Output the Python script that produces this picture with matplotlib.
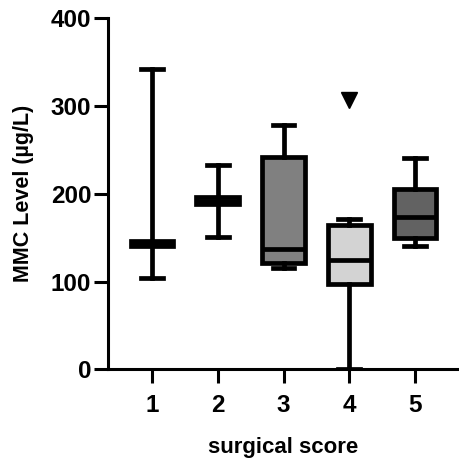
import matplotlib
matplotlib.use('Agg')
import matplotlib.pyplot as plt

plt.rcParams['font.family'] = ['Liberation Sans', 'DejaVu Sans']
plt.rcParams['font.weight'] = 'bold'

# box statistics (MMC level, ug/L)
scores = [1, 2, 3, 4, 5]
whislo = [104, 151, 115, 0, 140]
q1 = [140, 188, 121, 97, 150]
med = [143, 192, 137, 124, 174]
q3 = [146, 196, 242, 164, 206]
whishi = [342, 233, 278, 171, 241]
fliers = [[], [], [], [307], []]
fills = ['#ffffff', '#ffffff', '#808080', '#d3d3d3', '#626262']

stats = []
for i in range(len(scores)):
    stats.append({'whislo': whislo[i], 'q1': q1[i], 'med': med[i], 'q3': q3[i],
                  'whishi': whishi[i], 'fliers': fliers[i]})

fig = plt.figure(figsize=(4.59, 4.61), dpi=100)
ax = fig.add_axes([108 / 459, 91.7 / 461, 1 - 108 / 459, 351 / 461])

lw = 3.4
bp = ax.bxp(stats, positions=scores, widths=0.65, patch_artist=True,
            boxprops=dict(linewidth=lw, edgecolor='black'),
            whiskerprops=dict(linewidth=lw, color='black'),
            capprops=dict(linewidth=lw, color='black'),
            medianprops=dict(linewidth=lw, color='black', solid_capstyle='butt'),
            flierprops=dict(marker='v', markersize=11, markerfacecolor='black',
                            markeredgecolor='black'),
            capwidths=0.33)
for patch, c in zip(bp['boxes'], fills):
    patch.set_facecolor(c)

ax.set_xlim(0.33, 5.67)
ax.set_ylim(0, 400)
ax.set_yticks([0, 100, 200, 300, 400])
ax.set_xticks(scores)
ax.set_xticklabels([str(s) for s in scores])

for side in ['top', 'right']:
    ax.spines[side].set_visible(False)
for side in ['left', 'bottom']:
    ax.spines[side].set_linewidth(2.2)
ax.tick_params(axis='both', width=2.2, length=10, labelsize=17.5)
ax.tick_params(axis='y', pad=2)
ax.tick_params(axis='x', pad=8)

ax.set_ylabel('MMC Level (µg/L)', fontsize=15.5, fontweight='bold', labelpad=12)
ax.set_xlabel('surgical score', fontsize=16, fontweight='bold', labelpad=14)
for lab in ax.get_xticklabels() + ax.get_yticklabels():
    lab.set_fontweight('bold')

fig.savefig('out.png', dpi=100)
